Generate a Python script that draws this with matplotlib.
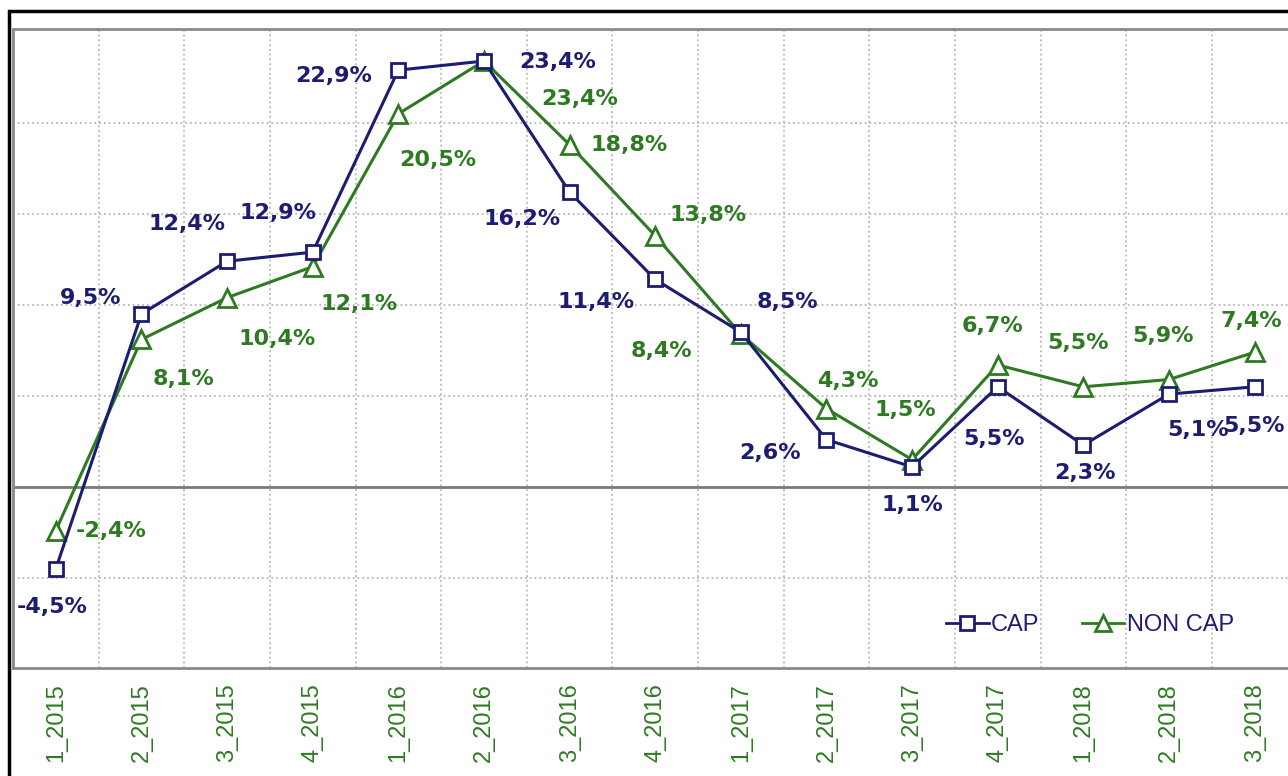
import matplotlib.pyplot as plt
import numpy as np
from matplotlib.patches import Rectangle
from matplotlib.lines import Line2D

# Quarterly growth figures
periods = ["1_2015", "2_2015", "3_2015", "4_2015",
           "1_2016", "2_2016", "3_2016", "4_2016",
           "1_2017", "2_2017", "3_2017", "4_2017",
           "1_2018", "2_2018", "3_2018"]
cap = [-4.5, 9.5, 12.4, 12.9, 22.9, 23.4, 16.2, 11.4, 8.5, 2.6, 1.1, 5.5, 2.3, 5.1, 5.5]
non_cap = [-2.4, 8.1, 10.4, 12.1, 20.5, 23.4, 18.8, 13.8, 8.4, 4.3, 1.5, 6.7, 5.5, 5.9, 7.4]

# label offsets in pixels (dx, dy) for each point
cap_off = [(-4, -38), (-51, 16), (-40, 37), (-35, 39), (-65, -6), (74, -1), (-48, -27),
           (-59, -23), (47, 30), (-56, -13), (0, -38), (-4, -52), (2, -28), (29, -36), (-1, -39)]
non_off = [(55, 0), (42, -40), (50, -41), (46, -37), (39, -46), (96, -38), (60, 0),
           (53, 21), (-79, -17), (21, 28), (-7, 50), (-5, 39), (-5, 44), (-6, 44), (-3, 31)]

navy = "#1c1c72"
green = "#2e7a22"
narrow = ["Liberation Sans", "DejaVu Sans"]

fig = plt.figure(figsize=(12.88, 7.76), dpi=100)
ax = fig.add_axes([13 / 1288, 1 - 668 / 776, 1 - 13 / 1288, (668 - 29) / 776])

x = np.arange(len(periods))
ax.plot(x, cap, color=navy, lw=2.2, marker="s", ms=10, mfc="white", mec=navy, mew=2, zorder=4)
ax.plot(x, non_cap, color=green, lw=2.2, marker="^", ms=13, mfc="white", mec=green, mew=2, zorder=3)

for i in range(len(x)):
    ax.annotate(f"{cap[i]:.1f}%".replace(".", ","), (x[i], cap[i]), xytext=cap_off[i],
                textcoords="offset pixels", ha="center", va="center",
                color=navy, fontsize=16, fontweight="bold", zorder=5)
    ax.annotate(f"{non_cap[i]:.1f}%".replace(".", ","), (x[i], non_cap[i]), xytext=non_off[i],
                textcoords="offset pixels", ha="center", va="center",
                color=green, fontsize=16, fontweight="bold", zorder=5)

ax.set_xlim(-0.5, 14.39)
ax.set_ylim(-9.95, 25.16)
ax.axhline(0, color="#7a7a7a", lw=2, zorder=2)

ax.set_xticks(x)
ax.set_xticks(x[:-1] + 0.5, minor=True)
ax.set_xticklabels(periods, rotation=90, color=green, fontsize=17, family=narrow)
ax.set_yticks([-5, 5, 10, 15, 20])
ax.set_yticklabels([])
ax.tick_params(axis="both", which="both", length=0)
ax.tick_params(axis="x", pad=11)
ax.grid(True, which="minor", axis="x", color="#b8b8b8", linestyle=":", lw=1.3)
ax.grid(True, which="major", axis="y", color="#b8b8b8", linestyle=":", lw=1.3)

for side in ["top", "left", "bottom"]:
    ax.spines[side].set_color("#8a8a8a")
    ax.spines[side].set_linewidth(2)
ax.spines["right"].set_visible(False)

handles = [Line2D([], [], color=navy, lw=2, marker="s", ms=10, mfc="white", mec=navy, mew=2),
           Line2D([], [], color=green, lw=2, marker="^", ms=12, mfc="white", mec=green, mew=2)]
leg = fig.legend(handles, ["CAP", "NON CAP"], loc="center", bbox_to_anchor=(1090 / 1288, 1 - 625 / 776),
                 ncol=2, frameon=False, handlelength=1.8, handletextpad=0.1, columnspacing=1.8,
                 prop={"size": 17, "family": narrow})
for t in leg.get_texts():
    t.set_color(navy)

# outer black frame
fig.patches.append(Rectangle((9 / 1288, -0.1), 1.2, 1 - 11 / 776 + 0.1, transform=fig.transFigure,
                             fill=False, edgecolor="black", lw=2.5, zorder=10))

fig.savefig("out.png", dpi=100)
